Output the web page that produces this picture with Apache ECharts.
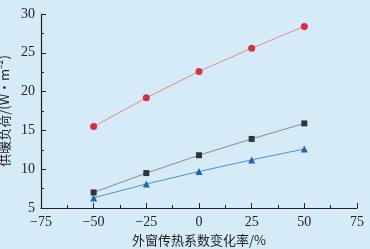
<!DOCTYPE html>
<html>
<head>
<meta charset="utf-8">
<script src="https://cdn.jsdelivr.net/npm/echarts@6/dist/echarts.min.js"></script>
<style>
html, body { margin: 0; padding: 0; background: #d5ebf8; }
#chart { width: 370px; height: 249px; }
</style>
</head>
<body>
<div id="chart"></div>
<script>
var rates = [-50, -25, 0, 25, 50];
var redLoad = [15.5, 19.2, 22.6, 25.6, 28.4];
var grayLoad = [7.0, 9.5, 11.8, 13.9, 15.9];
var blueLoad = [6.3, 8.1, 9.7, 11.2, 12.6];

function pairs(ys) {
	var out = [];
	for (var i = 0; i < rates.length; i++) {
		out.push([rates[i], ys[i]]);
	}
	return out;
}

function mkSeries(ys, lineColor, markColor, symbol, size) {
	return {
		type : 'line',
		data : pairs(ys),
		symbol : symbol,
		symbolSize : size,
		lineStyle : { color : lineColor, width : 1 },
		itemStyle : { color : markColor },
		animation : false
	};
}

var chart = echarts.init(document.getElementById('chart'));
var axisFont = { fontFamily : 'Liberation Serif', fontSize : 14, color : '#222' };
var option = {
	backgroundColor : '#d5ebf8',
	grid : { left : 41, right : 13, top : 14, bottom : 41, containLabel : false, outerBoundsMode : 'none' },
	xAxis : {
		type : 'value',
		min : -75,
		max : 75,
		interval : 25,
		name : '外窗传热系数变化率/%',
		nameLocation : 'middle',
		nameGap : 26,
		nameTextStyle : { fontFamily : 'Noto Sans CJK SC', fontSize : 13, color : '#222' },
		axisLine : { onZero : false, lineStyle : { color : '#222', width : 1.2 } },
		axisTick : { inside : true, length : 5, lineStyle : { color : '#222' } },
		minorTick : { show : true, splitNumber : 2, length : 3, lineStyle : { color : '#222' } },
		axisLabel : Object.assign({ margin : 7, formatter : function (v) { return String(v).replace('-', '\u2212'); } }, axisFont),
		splitLine : { show : false }
	},
	yAxis : {
		type : 'value',
		min : 5,
		max : 30,
		interval : 5,
		name : '供暖负荷/(W·m\u207B\u00B2)',
		nameLocation : 'middle',
		nameGap : 29,
		nameTextStyle : { fontFamily : 'Noto Sans CJK SC', fontSize : 13, color : '#222' },
		axisLine : { show : true, onZero : false, lineStyle : { color : '#222', width : 1.2 } },
		axisTick : { show : true, inside : true, length : 5, lineStyle : { color : '#222' } },
		minorTick : { show : true, splitNumber : 2, length : 3, lineStyle : { color : '#222' } },
		axisLabel : Object.assign({ margin : 6 }, axisFont),
		splitLine : { show : false }
	},
	series : [
		mkSeries(redLoad, '#e5878d', '#d8303a', 'circle', 7),
		mkSeries(grayLoad, '#8a8a8a', '#333333', 'rect', 6),
		mkSeries(blueLoad, '#4a90d6', '#1f63b5', 'triangle', 7)
	]
};
chart.setOption(option, true);
</script>
</body>
</html>
